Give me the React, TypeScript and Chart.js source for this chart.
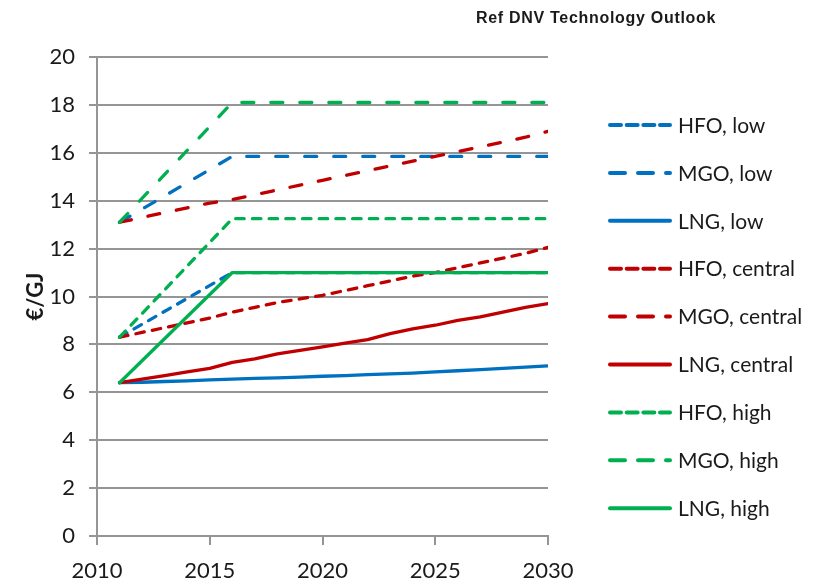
import React, { useEffect, useRef } from "react";
import { Chart, registerables } from "chart.js";

Chart.register(...registerables);

const TITLE = "Ref DNV Technology Outlook";
const Y_TITLE = "€/GJ";

const years = [2011, 2012, 2013, 2014, 2015, 2016, 2017, 2018, 2019, 2020, 2021, 2022, 2023, 2024, 2025, 2026, 2027, 2028, 2029, 2030];
const kinkYears = [2011, 2016, 2030];

const hfoLow = [8.3, 11.0, 11.0];
const mgoLow = [13.1, 15.85, 15.85];
const lngLow = [6.4, 6.42, 6.45, 6.48, 6.52, 6.55, 6.58, 6.6, 6.63, 6.67, 6.7, 6.74, 6.77, 6.8, 6.85, 6.9, 6.95, 7.0, 7.05, 7.1];
const hfoCentral = [8.3, 8.5, 8.7, 8.9, 9.1, 9.35, 9.55, 9.75, 9.9, 10.05, 10.25, 10.45, 10.65, 10.85, 11.0, 11.2, 11.4, 11.6, 11.8, 12.05];
const mgoCentral = [13.1, 13.3, 13.5, 13.7, 13.9, 14.05, 14.25, 14.45, 14.65, 14.85, 15.05, 15.25, 15.45, 15.65, 15.85, 16.05, 16.25, 16.45, 16.65, 16.9];
const lngCentral = [6.4, 6.55, 6.7, 6.85, 7.0, 7.25, 7.4, 7.6, 7.75, 7.9, 8.05, 8.2, 8.45, 8.65, 8.8, 9.0, 9.15, 9.35, 9.55, 9.7];
const hfoHigh = [8.3, 13.25, 13.25];
const mgoHigh = [13.1, 18.1, 18.1];
const lngHigh = [6.4, 11.0, 11.0];

const seriesLabels = ["HFO, low", "MGO, low", "LNG, low", "HFO, central", "MGO, central", "LNG, central", "HFO, high", "MGO, high", "LNG, high"];
const seriesKinds = ["hfo", "mgo", "lng", "hfo", "mgo", "lng", "hfo", "mgo", "lng"];
const seriesColors = ["#0070C0", "#0070C0", "#0070C0", "#C00000", "#C00000", "#C00000", "#00B050", "#00B050", "#00B050"];
const seriesX = [kinkYears, kinkYears, years, years, years, years, kinkYears, kinkYears, kinkYears];
const seriesY = [hfoLow, mgoLow, lngLow, hfoCentral, mgoCentral, lngCentral, hfoHigh, mgoHigh, lngHigh];

const plotDash: Record<string, number[]> = { hfo: [8.5, 8.2], mgo: [12, 17], lng: [] };
const legendDash: Record<string, number[]> = { hfo: [11, 5.67], mgo: [15, 13], lng: [] };

const GRID = "#959595";
const TEXT = "#1a1a1a";

const overlayPlugin = {
  id: "overlay",
  afterDraw(chart: any) {
    const ctx = chart.ctx;
    ctx.save();
    ctx.font = 'bold 16px "Liberation Sans", Arial, sans-serif';
    (ctx as any).letterSpacing = "0.7px";
    ctx.fillStyle = TEXT;
    ctx.textAlign = "left";
    ctx.textBaseline = "alphabetic";
    ctx.fillText(TITLE, 476, 23);
    (ctx as any).letterSpacing = "0px";

    chart.data.datasets.forEach((ds: any, i: number) => {
      const y = 125 + i * 47.9;
      ctx.beginPath();
      ctx.strokeStyle = ds.borderColor;
      ctx.lineWidth = 4;
      ctx.lineCap = "round";
      ctx.setLineDash(legendDash[seriesKinds[i]]);
      ctx.moveTo(610, y);
      ctx.lineTo(670, y);
      ctx.stroke();
      ctx.setLineDash([]);
      ctx.font = '21px Lato, "Open Sans", sans-serif';
      ctx.fillStyle = TEXT;
      ctx.textBaseline = "middle";
      ctx.fillText(ds.label, 678, y + 1);
    });
    ctx.restore();
  },
};

export default function App() {
  const ref = useRef<HTMLCanvasElement>(null);

  useEffect(() => {
    if (!ref.current) return;
    const datasets = seriesLabels.map((label, i) => ({
      label,
      data: seriesX[i].map((x, j) => ({ x, y: seriesY[i][j] })),
      borderColor: seriesColors[i],
      backgroundColor: seriesColors[i],
      borderWidth: 3.3,
      borderDash: plotDash[seriesKinds[i]],
      borderCapStyle: "round" as const,
      borderJoinStyle: "round" as const,
      pointRadius: 0,
      tension: 0,
      fill: false,
      order: -i,
    }));

    const chart = new Chart(ref.current, {
      type: "line",
      data: { datasets },
      options: {
        animation: false,
        responsive: true,
        maintainAspectRatio: false,
        layout: { padding: { left: 0, top: 57, right: 265, bottom: 0 } },
        plugins: {
          legend: { display: false },
          title: { display: false },
          tooltip: { enabled: false },
        },
        scales: {
          x: {
            type: "linear",
            min: 2010,
            max: 2030,
            afterFit: (s: any) => {
              s.height = 48;
            },
            ticks: {
              stepSize: 5,
              color: TEXT,
              padding: 13,
              font: { family: 'Lato, "Open Sans", sans-serif', size: 22 },
              callback: (v: any) => String(v),
            },
            grid: {
              drawOnChartArea: false,
              drawTicks: true,
              tickLength: 9,
              color: GRID,
              lineWidth: 2,
            },
            border: { display: true, color: GRID, width: 2 },
          },
          y: {
            min: 0,
            max: 20,
            afterFit: (s: any) => {
              s.width = 97;
            },
            ticks: {
              stepSize: 2,
              color: TEXT,
              padding: 14,
              font: { family: 'Lato, "Open Sans", sans-serif', size: 22 },
            },
            grid: {
              drawOnChartArea: true,
              drawTicks: true,
              tickLength: 8,
              color: GRID,
              lineWidth: 2,
            },
            border: { display: true, color: GRID, width: 2 },
            title: {
              display: true,
              text: Y_TITLE,
              color: TEXT,
              padding: { top: 23, bottom: 0 },
              font: { family: 'Lato, "Open Sans", sans-serif', size: 22, weight: "bold" },
            },
          },
        },
      },
      plugins: [overlayPlugin],
    });
    return () => chart.destroy();
  }, []);

  return (
    <div style={{ position: "absolute", left: 0, top: 0, width: 813, height: 584, background: "#fff" }}>
      <canvas ref={ref} />
    </div>
  );
}
